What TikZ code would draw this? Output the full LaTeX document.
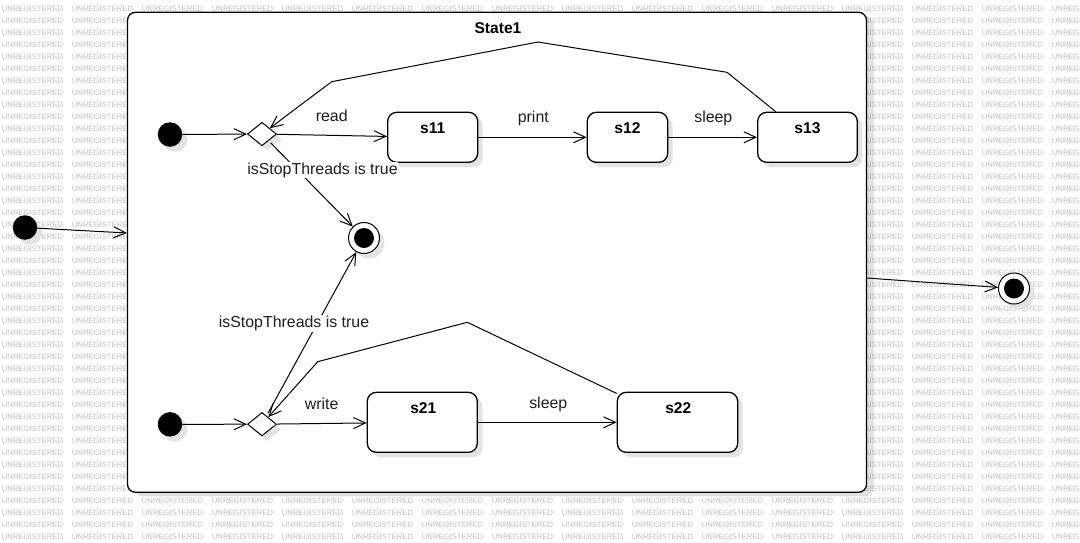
\documentclass[tikz,border=0pt]{standalone}
\usepackage{fontspec}
\setmainfont{Liberation Sans}
\usetikzlibrary{shapes.geometric,arrows.meta,shadows,calc}
\begin{document}
\begin{tikzpicture}[x=1pt,y=-1pt,
  wm/.style={anchor=west, inner sep=0pt, text=black!24, font=\fontsize{7.7}{8}\selectfont},
  shd/.style={drop shadow={shadow xshift=5pt, shadow yshift=-5pt, fill=black!11, opacity=1}},
  s1box/.style={draw, line width=1.3pt, fill=white, rounded corners=8pt, inner sep=0pt,
     drop shadow={shadow xshift=7pt, shadow yshift=-4pt, fill=black, opacity=0.12}},
  st/.style={draw, line width=1.3pt, fill=white, rounded corners=9pt, inner sep=0pt, shd},
  stname/.style={inner sep=0pt, font=\bfseries\fontsize{15.6}{18}\selectfont},
  diam/.style={diamond, draw, line width=1pt, fill=white, inner sep=0pt,
     minimum width=29pt, minimum height=23.5pt, shd},
  init/.style={circle, fill=black, inner sep=0pt, minimum size=24.5pt, shd},
  final/.style={circle, draw, line width=1pt, fill=white, inner sep=0pt, minimum size=31pt, shd,
     path picture={\fill[black] (path picture bounding box.center) circle[radius=10pt];}},
  edge/.style={draw, line width=1pt, -{Straight Barb[length=12pt, width=11pt, line width=1pt]}},
  lbl/.style={fill=white, inner sep=0.8pt, text=black!88, font=\fontsize{15.9}{19}\selectfont}
]
\useasboundingbox (0,0) rectangle (1080,542);
\fill[white] (0,0) rectangle (1080,542);

% watermark
\begin{scope}
\clip (0,0) rectangle (1080,542);
\foreach \r in {0,...,44}{
  \foreach \c in {0,...,14}{
    \node[wm] (w\r-\c) at (1.7+70*\c, 9+12*\r) {UNREGISTERED};
  }
  \node[wm] (w\r-15) at (1051.7, 9+12*\r) {UNREG};
}
\end{scope}

% composite state
\node[s1box, minimum width=739pt, minimum height=480pt] (S1) at (497,252.3) {};
\node[stname] (S1t) at (498,28.3) {State1};

% outer initial / final
\node[init] (i0) at (25,227.5) {};
\node[final] (f0) at (1014,288.5) {};

% region 1
\node[init] (i1) at (170,134.5) {};
\node[diam] (d1) at (262,134) {};
\node[st, minimum width=90pt, minimum height=50pt] (s11) at (432.7,137.3) {};
\node[stname] (s11t) at (432.7,128.3) {s11};
\node[st, minimum width=80.4pt, minimum height=50pt] (s12) at (627.5,137.3) {};
\node[stname] (s12t) at (627.5,128.3) {s12};
\node[st, minimum width=99.6pt, minimum height=50pt] (s13) at (807.5,137.3) {};
\node[stname] (s13t) at (807.5,128.3) {s13};

\node[final] (f1) at (364,238) {};

% region 2
\node[init] (i2) at (170,424.3) {};
\node[diam] (d2) at (262,424.2) {};
\node[st, minimum width=110pt, minimum height=60pt] (s21) at (422.3,422.3) {};
\node[stname] (s21t) at (423.3,408.3) {s21};
\node[st, minimum width=120.4pt, minimum height=60pt] (s22) at (677.5,422.3) {};
\node[stname] (s22t) at (678.3,408.3) {s22};

% bend points
\coordinate (a1) at (727,72.3);
\coordinate (a2) at (538,42);
\coordinate (a3) at (331.7,81.7);
\coordinate (b1) at (467.3,322.3);
\coordinate (b2) at (317.7,361.7);

% connectors
\draw[edge] (i0) -- (S1);
\draw[edge] (S1) -- (f0);
\draw[edge] (i1) -- (d1);
\draw[edge] (d1) -- (s11);
\draw[edge] (s11) -- (s12);
\draw[edge] (s12) -- (s13);
\draw[edge] (s13) -- (a1) -- (a2) -- (a3) -- (d1);
\draw[edge, shorten <=3pt] (d1) -- (f1);
\draw[edge] (i2) -- (d2);
\draw[edge] (d2) -- (s21);
\draw[edge] (s21) -- (s22);
\draw[edge] (s22) -- (b1) -- (b2) -- (d2);
\draw[edge, shorten <=3pt] (d2) -- (f1);

% labels
\node[lbl] (l1) at (331.7,115.7) {read};
\node[lbl] (l2) at (533.3,118.5) {print};
\node[lbl] (l3) at (713.3,118.5) {sleep};
\node[lbl] (l4) at (322.5,170) {isStopThreads is true};
\node[lbl] (l5) at (294,323.3) {isStopThreads is true};
\node[lbl] (l6) at (321.7,403.5) {write};
\node[lbl] (l7) at (548.3,404) {sleep};
\end{tikzpicture}
\end{document}
